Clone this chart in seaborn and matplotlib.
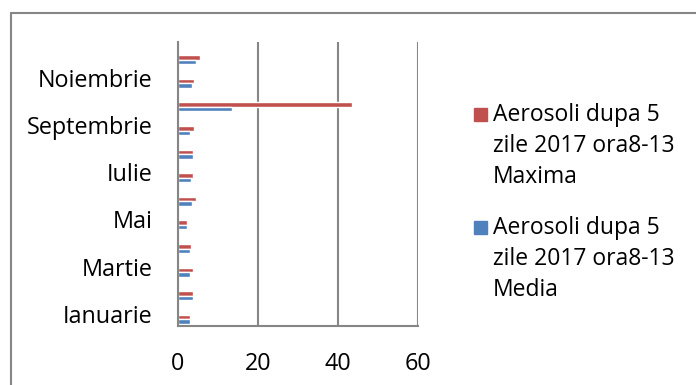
import numpy as np
import pandas as pd
import matplotlib.pyplot as plt
import seaborn as sns
from matplotlib.lines import Line2D
from matplotlib.patches import Rectangle

months = ['Ianuarie', 'Februarie', 'Martie', 'Aprilie', 'Mai', 'Iunie',
          'Iulie', 'August', 'Septembrie', 'Octombrie', 'Noiembrie', 'Decembrie']
maxima = [3.0, 3.7, 3.7, 3.3, 2.3, 4.4, 3.7, 3.7, 4.1, 43.5, 4.0, 5.5]
media = [3.0, 3.7, 3.1, 2.9, 2.3, 3.5, 3.3, 3.7, 3.0, 13.4, 3.6, 4.5]
name_max = 'Aerosoli dupa 5 zile 2017 ora8-13 Maxima'
name_med = 'Aerosoli dupa 5 zile 2017 ora8-13 Media'
legend_labels = ['Aerosoli dupa 5\nzile 2017 ora8-13\nMaxima',
                 'Aerosoli dupa 5\nzile 2017 ora8-13\nMedia']
shown = ['Ianuarie', 'Martie', 'Mai', 'Iulie', 'Septembrie', 'Noiembrie']
xticks = [0, 20, 40, 60]

red = '#C0504D'
blue = '#4F81BD'
grey = '#868686'

sns.set_style('white')
plt.rcParams['font.family'] = ['Open Sans', 'DejaVu Sans']
plt.rcParams['text.color'] = 'black'

df = pd.DataFrame({'Luna': months * 2,
                   'Valoare': maxima + media,
                   'Serie': [name_max] * 12 + [name_med] * 12})

W, H = 696, 385
fig = plt.figure(figsize=(W / 100, H / 100), dpi=100)
ax = fig.add_axes([178 / W, 1 - 325.5 / H, 240 / W, (325.5 - 42.3) / H])

order = months[::-1]
sns.barplot(data=df, y='Luna', x='Valoare', hue='Serie', order=order,
            hue_order=[name_max, name_med], palette=[red, blue],
            orient='h', width=0.38, saturation=1, errorbar=None,
            legend=False, ax=ax)

# category labels sit a bit above the bar groups, like the Excel original
off = 0.24
pos = {m: i for i, m in enumerate(order)}
ax.set_yticks([pos[m] - off for m in shown])
ax.set_yticklabels(shown)
ax.set_yticks([k - off - 0.5 for k in range(13)], minor=True)
ax.set_ylim(11.5 - off, -0.5 - off)
ax.tick_params(axis='y', which='major', length=0, pad=18.5, labelsize=16.8, labelcolor='black')
ax.tick_params(axis='y', which='minor', length=5.8, width=1.5, color=grey, direction='out')

ax.set_xlim(0, 60)
ax.set_xticks(xticks)
ax.tick_params(axis='x', length=5.8, width=1.5, color=grey, direction='out', pad=13,
               labelsize=16.8, labelcolor='black')
ax.grid(axis='x', color=grey, linewidth=1.5)
ax.set_axisbelow(True)
ax.set_xlabel('')
ax.set_ylabel('')
for s in ['top', 'right']:
    ax.spines[s].set_visible(False)
for s in ['left', 'bottom']:
    ax.spines[s].set_color(grey)
    ax.spines[s].set_linewidth(1.5)

# legend drawn by hand so the square lines up with the first text line
for lab, col, y in zip(legend_labels, [red, blue], [114, 227]):
    fig.add_artist(Rectangle((474 / W, 1 - (y + 6.5) / H), 13 / W, 13 / H,
                             transform=fig.transFigure, color=col))
    fig.text(493 / W, 1 - (y - 11) / H, lab, ha='left', va='top',
             fontsize=16.5, linespacing=1.4)

# chart area border
fig.add_artist(Line2D([11 / W, 11 / W], [0, 1 - 13 / H], color=grey, lw=1.5))
fig.add_artist(Line2D([11 / W, 1], [1 - 13 / H, 1 - 13 / H], color=grey, lw=1.5))

plt.savefig('out.png', dpi=100)
